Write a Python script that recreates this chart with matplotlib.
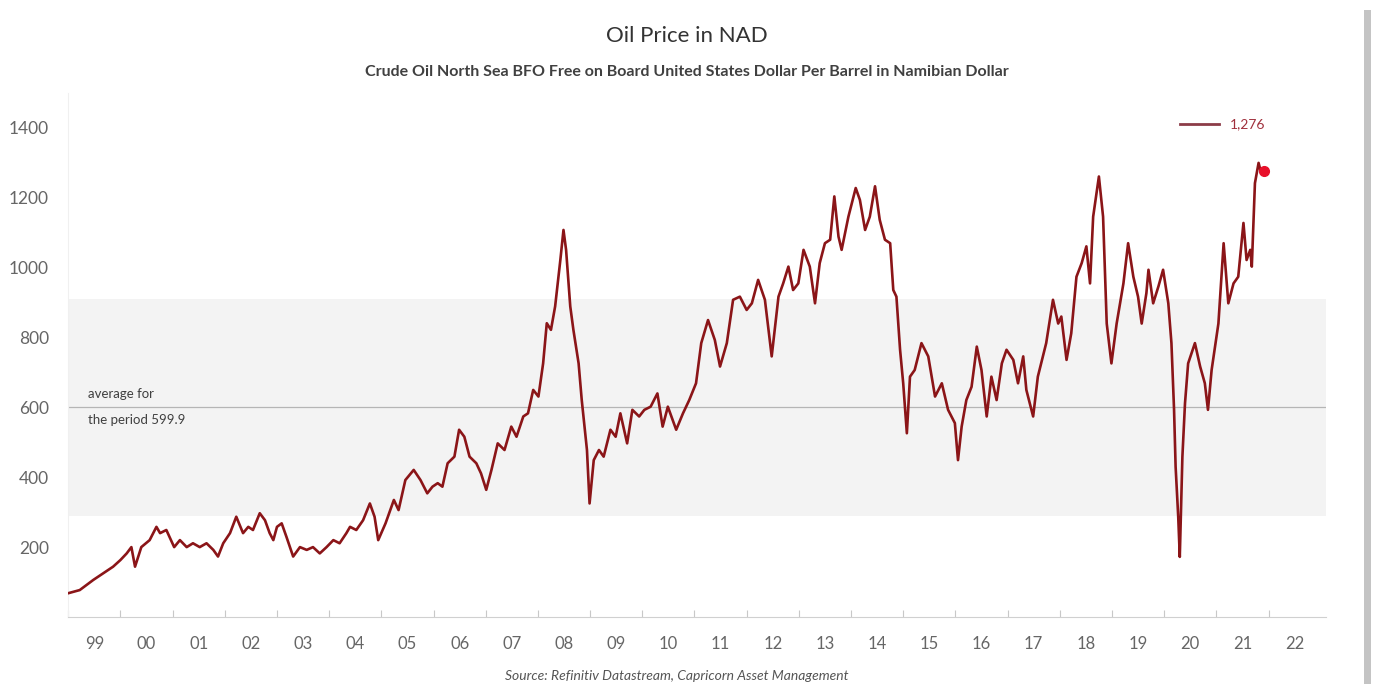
import matplotlib.pyplot as plt
from matplotlib.lines import Line2D
from matplotlib.patches import Rectangle

# Brent in NAD (decimal year, NAD per barrel)
years = [
    1999.00, 1999.22, 1999.48, 1999.67, 1999.86, 2000.00, 2000.12, 2000.21, 2000.28, 2000.40,
    2000.56, 2000.69, 2000.76, 2000.88, 2001.03, 2001.14, 2001.27, 2001.39, 2001.52, 2001.65,
    2001.78, 2001.87, 2001.97, 2002.10, 2002.22, 2002.35, 2002.45, 2002.54, 2002.67, 2002.77,
    2002.86, 2002.93, 2003.00, 2003.09, 2003.18, 2003.31, 2003.44, 2003.57, 2003.69, 2003.82,
    2003.95, 2004.08, 2004.20, 2004.33, 2004.40, 2004.52, 2004.65, 2004.78, 2004.87, 2004.94,
    2005.08, 2005.24, 2005.33, 2005.46, 2005.62, 2005.75, 2005.88, 2005.98, 2006.08, 2006.17,
    2006.27, 2006.40, 2006.49, 2006.59, 2006.69, 2006.82, 2006.91, 2007.01, 2007.11, 2007.23,
    2007.36, 2007.49, 2007.59, 2007.72, 2007.81, 2007.91, 2008.01, 2008.10, 2008.17, 2008.25,
    2008.33, 2008.43, 2008.49, 2008.54, 2008.62, 2008.68, 2008.78, 2008.84, 2008.94, 2008.99,
    2009.07, 2009.17, 2009.26, 2009.39, 2009.49, 2009.58, 2009.71, 2009.81, 2009.94, 2010.04,
    2010.16, 2010.29, 2010.39, 2010.49, 2010.65, 2010.78, 2010.90, 2011.03, 2011.13, 2011.26,
    2011.39, 2011.49, 2011.62, 2011.74, 2011.87, 2012.00, 2012.10, 2012.22, 2012.35, 2012.48,
    2012.61, 2012.70, 2012.80, 2012.89, 2012.99, 2013.09, 2013.21, 2013.31, 2013.40, 2013.50,
    2013.60, 2013.68, 2013.76, 2013.82, 2013.95, 2014.09, 2014.17, 2014.27, 2014.36, 2014.46,
    2014.55, 2014.65, 2014.75, 2014.81, 2014.87, 2014.94, 2015.00, 2015.07, 2015.13, 2015.22,
    2015.35, 2015.48, 2015.61, 2015.74, 2015.86, 2015.99, 2016.05, 2016.12, 2016.21, 2016.31,
    2016.41, 2016.50, 2016.60, 2016.69, 2016.79, 2016.89, 2016.98, 2017.11, 2017.20, 2017.30,
    2017.36, 2017.49, 2017.58, 2017.74, 2017.87, 2017.97, 2018.03, 2018.13, 2018.22, 2018.32,
    2018.42, 2018.51, 2018.58, 2018.64, 2018.75, 2018.83, 2018.90, 2018.99, 2019.09, 2019.22,
    2019.31, 2019.41, 2019.50, 2019.57, 2019.66, 2019.70, 2019.79, 2019.89, 2019.98, 2020.08,
    2020.14, 2020.19, 2020.22, 2020.27, 2020.30, 2020.35, 2020.40, 2020.46, 2020.59, 2020.69,
    2020.78, 2020.84, 2020.91, 2021.04, 2021.14, 2021.23, 2021.33, 2021.42, 2021.52, 2021.58,
    2021.65, 2021.68, 2021.74, 2021.81, 2021.86, 2021.92,
]
price = [
    68, 77, 106, 125, 144, 163, 182, 200, 144, 200,
    220, 258, 240, 249, 200, 220, 200, 211, 200, 211,
    192, 173, 211, 240, 287, 240, 258, 249, 297, 277,
    240, 220, 258, 268, 230, 173, 200, 192, 200, 182,
    200, 220, 211, 240, 258, 249, 277, 325, 287, 220,
    268, 335, 306, 392, 421, 392, 354, 373, 383, 373,
    440, 459, 536, 516, 459, 440, 411, 364, 421, 497,
    478, 545, 516, 574, 583, 650, 631, 726, 841, 822,
    889, 1022, 1108, 1051, 889, 822, 726, 621, 478, 325,
    449, 478, 459, 536, 516, 583, 497, 593, 574, 593,
    602, 640, 545, 602, 536, 583, 621, 669, 784, 850,
    793, 717, 784, 908, 917, 879, 898, 965, 908, 746,
    917, 955, 1003, 936, 955, 1051, 1003, 898, 1013, 1070,
    1080, 1204, 1089, 1051, 1146, 1228, 1194, 1108, 1146, 1233,
    1137, 1080, 1070, 936, 917, 765, 669, 526, 688, 707,
    784, 746, 631, 669, 593, 555, 449, 545, 621, 659,
    774, 707, 574, 688, 621, 726, 765, 736, 669, 746,
    650, 574, 688, 784, 908, 840, 860, 736, 812, 974,
    1013, 1061, 955, 1146, 1261, 1146, 840, 726, 840, 955,
    1070, 974, 917, 840, 927, 994, 898, 946, 994, 898,
    784, 594, 430, 287, 172, 459, 612, 726, 784, 717,
    669, 593, 707, 840, 1070, 898, 955, 974, 1128, 1022,
    1051, 1003, 1242, 1300, 1270, 1276,
]

avg = 599.9
band_lo, band_hi = 290, 910
year_labels = ['99', '00', '01', '02', '03', '04', '05', '06', '07', '08', '09', '10',
               '11', '12', '13', '14', '15', '16', '17', '18', '19', '20', '21', '22']
yticks = [200, 400, 600, 800, 1000, 1200, 1400]

plt.rcParams['font.family'] = ['Lato', 'DejaVu Sans']

fig = plt.figure(figsize=(13.73, 6.84), dpi=100)
ax = fig.add_axes([0.0497, 0.098, 0.916, 0.766])

ax.axhspan(band_lo, band_hi, color='#f3f3f3', zorder=0, lw=0)
ax.axhline(avg, color='#b5b5b5', lw=0.9, zorder=1)
ax.plot(years, price, color='#8b1518', lw=1.9, zorder=3, label='1,276')
ax.plot(years[-1], price[-1], 'o', color='#e8102a', ms=7, zorder=4)

ax.text(1999.38, avg + 22, 'average for', fontsize=9.5, color='#404040', va='bottom')
ax.text(1999.38, avg - 20, 'the period 599.9', fontsize=9.5, color='#404040', va='top')

ax.set_xlim(1999, 2023.1)
ax.set_ylim(0, 1500)

# year boundaries as ticks, labels centred in each year
ax.set_xticks(range(1999, 2023))
ax.set_xticklabels([])
ax.set_xticks([y + 0.5 for y in range(1999, 2023)], minor=True)
ax.set_xticklabels(year_labels, minor=True)
ax.tick_params(axis='x', which='major', direction='in', length=5, color='#c8c8c8')
ax.tick_params(axis='x', which='minor', length=0, pad=14, labelsize=12, labelcolor='#666666')

ax.set_yticks(yticks)
ax.set_yticklabels([str(t) for t in yticks])
ax.tick_params(axis='y', length=0, pad=14, labelsize=12.5, labelcolor='#666666')

for s in ['top', 'right']:
    ax.spines[s].set_visible(False)
ax.spines['left'].set_color('#f0f0f0')
ax.spines['bottom'].set_color('#d0d0d0')

leg = ax.legend(handles=[Line2D([], [], color='#8c3c48', lw=2)], labels=['1,276'],
                loc='upper right', bbox_to_anchor=(0.962, 0.975), frameon=False,
                fontsize=10, handlelength=2.8)
for t in leg.get_texts():
    t.set_color('#a0303c')

fig.text(0.5, 0.948, 'Oil Price in NAD', ha='center', va='center', fontsize=16, color='#333333')
fig.text(0.5, 0.895, 'Crude Oil North Sea BFO Free on Board United States Dollar Per Barrel in Namibian Dollar',
         ha='center', va='center', fontsize=11.5, fontweight='bold', color='#404040')
fig.text(0.493, 0.012, 'Source: Refinitiv Datastream, Capricorn Asset Management', ha='center', va='center',
         fontsize=10, style='italic', color='#555555')

# screenshot shadow on the right edge
fig.add_artist(Rectangle((0.9935, 0.0), 0.005, 0.985, transform=fig.transFigure,
                         color='#c4c4c4', lw=0))

fig.savefig('out.png', dpi=100)
